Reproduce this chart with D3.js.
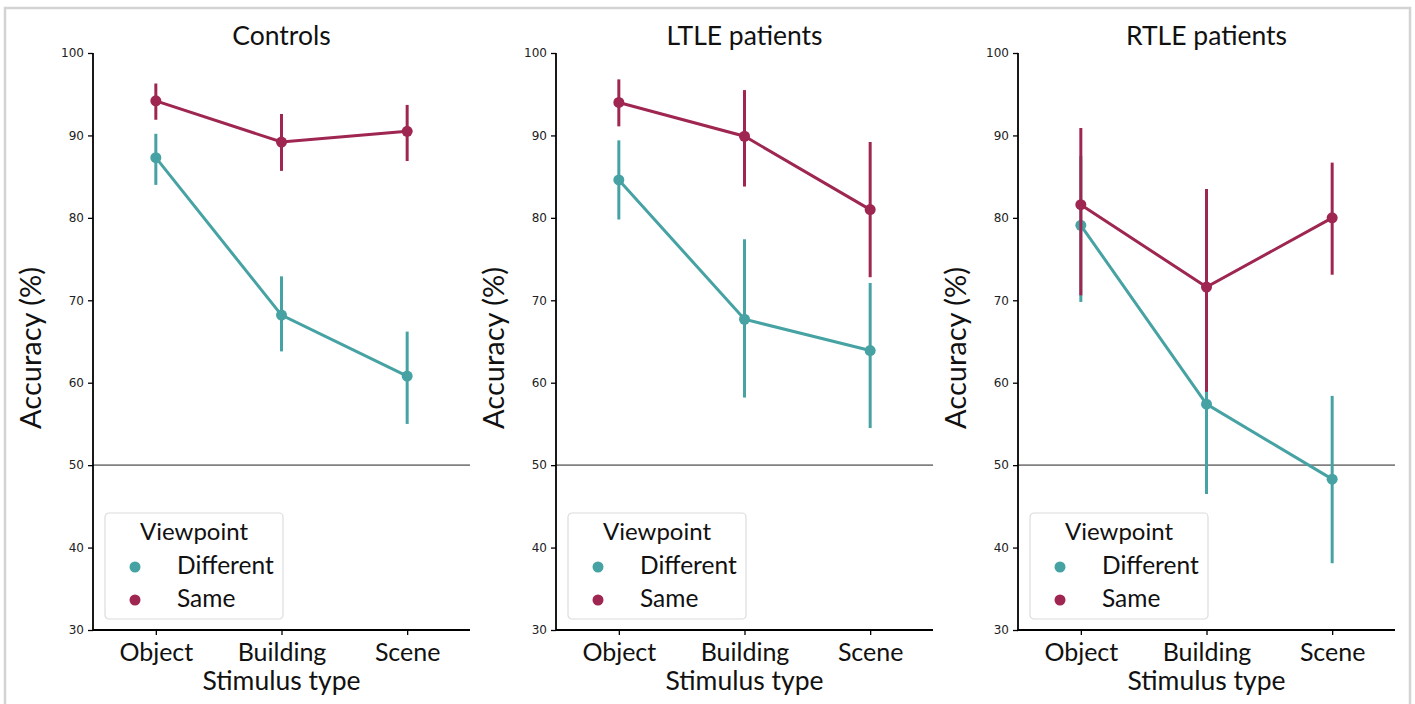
<!DOCTYPE html>
<html>
<head>
<meta charset="utf-8">
<script src="https://cdn.jsdelivr.net/npm/d3@7"></script>
<style>
  body { margin: 0; background: #fff; }
  svg { display: block; }
</style>
</head>
<body>
<svg id="chart" width="1415" height="704"></svg>
<script>
// Data
const stimuli = ["Object", "Building", "Scene"];
const viewpoints = ["Different", "Same"];
const groups = ["Controls", "LTLE patients", "RTLE patients"];
const yTicks = [30, 40, 50, 60, 70, 80, 90, 100];

// mean, ci low, ci high per stimulus
const controlsDifferent = [[87.3, 84.0, 90.2], [68.2, 63.8, 72.9], [60.8, 55.0, 66.2]];
const controlsSame      = [[94.2, 91.9, 96.3], [89.2, 85.7, 92.6], [90.5, 86.9, 93.7]];
const ltleDifferent     = [[84.6, 79.8, 89.4], [67.7, 58.2, 77.4], [63.9, 54.5, 72.1]];
const ltleSame          = [[94.0, 91.1, 96.8], [89.9, 83.8, 95.5], [81.0, 72.8, 89.2]];
const rtleDifferent     = [[79.1, 69.8, 87.5], [57.4, 46.5, 68.4], [48.3, 38.1, 58.4]];
const rtleSame          = [[81.6, 70.6, 90.9], [71.6, 58.9, 83.5], [80.0, 73.1, 86.7]];

const chance = 50;
const seriesByGroup = [
    [controlsDifferent, controlsSame],
    [ltleDifferent, ltleSame],
    [rtleDifferent, rtleSame]
];

const colors = { Different: "#46a2a3", Same: "#9e2650" };
const font = "Lato, 'Open Sans', sans-serif";

const svg = d3.select("#chart");

// outer frame
svg.append("rect")
    .attr("x", 5).attr("y", 8)
    .attr("width", 1405).attr("height", 710)
    .attr("fill", "none")
    .attr("stroke", "#d3d3d3")
    .attr("stroke-width", 2.5);

const axisLeftX = [93, 556, 1018];
const plotW = 377;
const plotTop = 53, plotBottom = 630;

const y = d3.scaleLinear().domain([30, 100]).range([plotBottom, plotTop]);

groups.forEach((group, gi) => {
    const g = svg.append("g").attr("transform", `translate(${axisLeftX[gi]},0)`);
    const x = d3.scalePoint().domain(stimuli).range([0, plotW]).padding(0.5);

    // chance line
    g.append("line")
        .attr("x1", 0).attr("x2", plotW)
        .attr("y1", y(chance)).attr("y2", y(chance))
        .attr("stroke", "#808080")
        .attr("stroke-width", 1.8);

    // series: Different first, Same on top
    viewpoints.forEach((vp, vi) => {
        const data = seriesByGroup[gi][vi].map((d, i) => ({ s: stimuli[i], m: d[0], lo: d[1], hi: d[2] }));
        const col = colors[vp];

        g.selectAll(`.err-${vi}`)
            .data(data)
            .enter()
            .append("line")
            .attr("class", `err-${vi}`)
            .attr("x1", d => x(d.s)).attr("x2", d => x(d.s))
            .attr("y1", d => y(d.lo)).attr("y2", d => y(d.hi))
            .attr("stroke", col)
            .attr("stroke-width", 3);

        g.append("path")
            .datum(data)
            .attr("fill", "none")
            .attr("stroke", col)
            .attr("stroke-width", 3)
            .attr("d", d3.line().x(d => x(d.s)).y(d => y(d.m)));

        g.selectAll(`.pt-${vi}`)
            .data(data)
            .enter()
            .append("circle")
            .attr("class", `pt-${vi}`)
            .attr("cx", d => x(d.s))
            .attr("cy", d => y(d.m))
            .attr("r", 5.5)
            .attr("fill", col);
    });

    // y axis
    const yAxis = g.append("g")
        .call(d3.axisLeft(y).tickValues(yTicks).tickSize(5).tickPadding(4));
    yAxis.select(".domain").attr("stroke-width", 1.8).attr("d", `M0,${plotTop}V${plotBottom}`);
    yAxis.selectAll(".tick line").attr("stroke-width", 1.3);
    yAxis.selectAll("text")
        .style("font-family", "'DejaVu Sans', sans-serif")
        .style("font-size", "12px")
        .attr("fill", "#222");

    // x axis
    const xAxis = g.append("g")
        .attr("transform", `translate(0,${plotBottom})`)
        .call(d3.axisBottom(x).tickSize(5).tickPadding(8));
    xAxis.select(".domain").attr("stroke-width", 1.8).attr("d", `M0,0H${plotW}`);
    xAxis.selectAll(".tick line").attr("stroke-width", 1.3);
    xAxis.selectAll("text")
        .style("font-family", font)
        .style("font-size", "25px")
        .attr("fill", "#111");

    // titles and axis labels
    g.append("text")
        .attr("x", plotW / 2).attr("y", 45)
        .attr("text-anchor", "middle")
        .style("font-family", font)
        .style("font-size", "26.5px")
        .attr("fill", "#111")
        .text(group);

    g.append("text")
        .attr("x", plotW / 2).attr("y", 690)
        .attr("text-anchor", "middle")
        .style("font-family", font)
        .style("font-size", "26.5px")
        .attr("fill", "#111")
        .text("Stimulus type");

    g.append("text")
        .attr("transform", `translate(-52,348) rotate(-90)`)
        .attr("text-anchor", "middle")
        .style("font-family", font)
        .style("font-size", "29px")
        .attr("fill", "#111")
        .text("Accuracy (%)");

    // legend
    const lg = g.append("g").attr("transform", "translate(12,513)");
    lg.append("rect")
        .attr("width", 178).attr("height", 106)
        .attr("rx", 4)
        .attr("fill", "#fff").attr("fill-opacity", 0.8)
        .attr("stroke", "#dcdcdc").attr("stroke-width", 1.2);
    lg.append("text")
        .attr("x", 89).attr("y", 27)
        .attr("text-anchor", "middle")
        .style("font-family", font)
        .style("font-size", "24px")
        .attr("fill", "#111")
        .text("Viewpoint");
    viewpoints.forEach((vp, i) => {
        lg.append("circle")
            .attr("cx", 30).attr("cy", 54 + i * 33)
            .attr("r", 5.5)
            .attr("fill", colors[vp]);
        lg.append("text")
            .attr("x", 72).attr("y", 61 + i * 33)
            .style("font-family", font)
            .style("font-size", "24.5px")
            .attr("fill", "#111")
            .text(vp);
    });
});
</script>
</body>
</html>
